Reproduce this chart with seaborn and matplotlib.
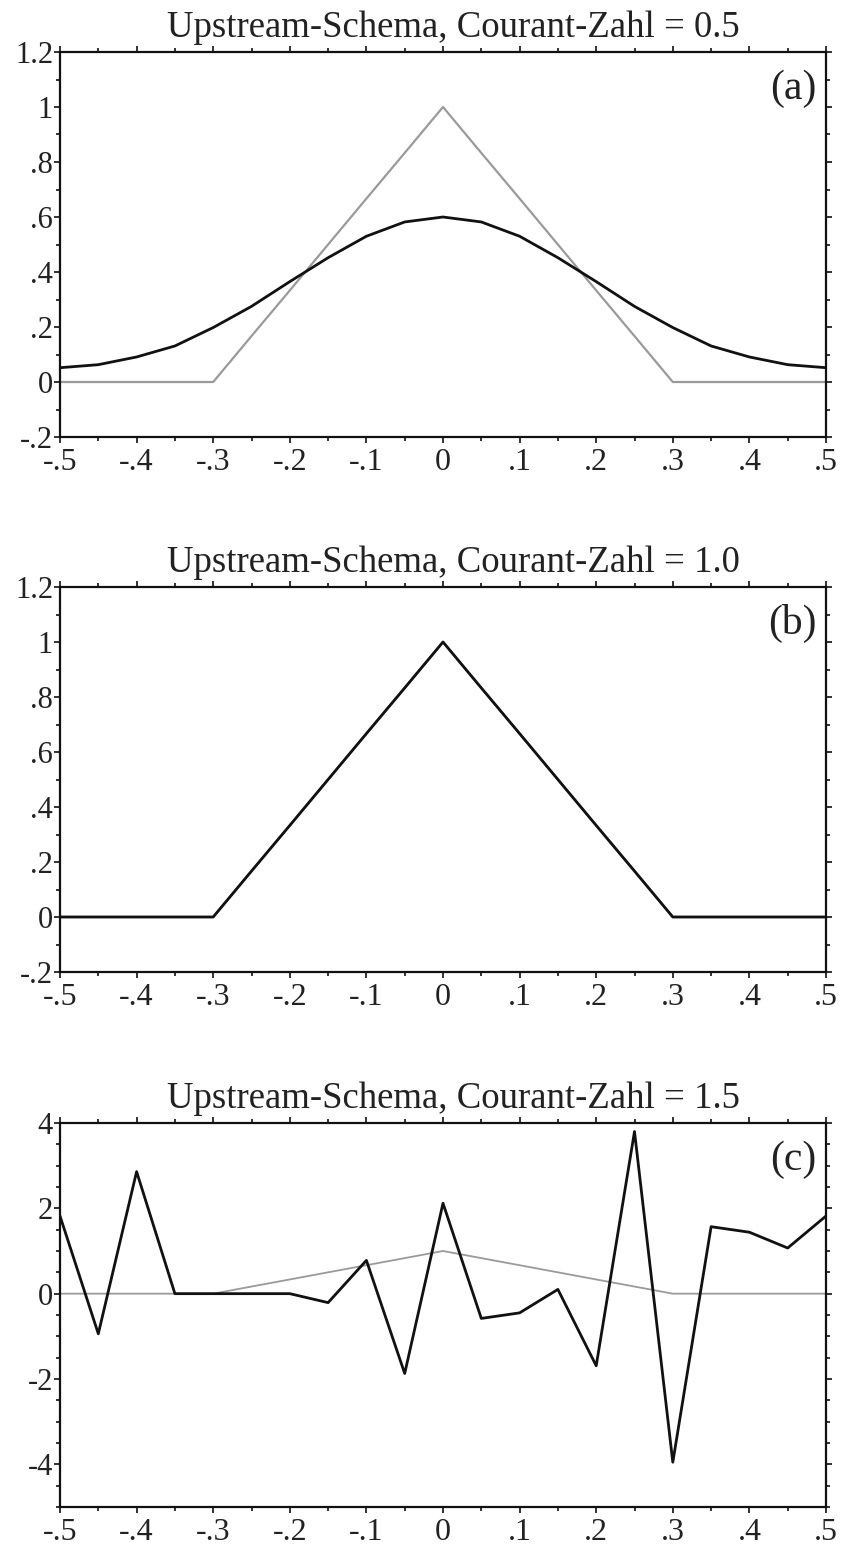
########## =========== UPSTREAM SCHEME, THREE COURANT NUMBERS =========== ##########

import matplotlib
matplotlib.use("Agg")
import matplotlib.pyplot as plt
from matplotlib.ticker import MultipleLocator, FuncFormatter
import seaborn as sns
import pandas as pd

black = "#111111"
grey = "#9a9a9a"
text_col = "#222222"

## Data
x_grid = [-0.5, -0.45, -0.4, -0.35, -0.3, -0.25, -0.2, -0.15, -0.1, -0.05, 0.0,
          0.05, 0.1, 0.15, 0.2, 0.25, 0.3, 0.35, 0.4, 0.45, 0.5]

# initial triangle (grey)
initial = [0, 0, 0, 0, 0, 0.167, 0.333, 0.5, 0.667, 0.833, 1.0,
           0.833, 0.667, 0.5, 0.333, 0.167, 0, 0, 0, 0, 0]

# Courant 0.5: smeared out
c05 = [0.052, 0.063, 0.091, 0.131, 0.198, 0.275, 0.365, 0.452, 0.530, 0.582, 0.600,
       0.582, 0.530, 0.452, 0.365, 0.275, 0.198, 0.131, 0.091, 0.063, 0.052]

# Courant 1.0: exact
c10 = [0, 0, 0, 0, 0, 0.167, 0.333, 0.5, 0.667, 0.833, 1.0,
       0.833, 0.667, 0.5, 0.333, 0.167, 0, 0, 0, 0, 0]

# Courant 1.5: unstable
c15 = [1.82, -0.94, 2.86, 0.0, 0.0, 0.0, 0.0, -0.21, 0.78, -1.87, 2.12,
       -0.58, -0.45, 0.10, -1.69, 3.80, -3.95, 1.57, 1.44, 1.07, 1.82]

titles = ["Upstream-Schema, Courant-Zahl = 0.5",
          "Upstream-Schema, Courant-Zahl = 1.0",
          "Upstream-Schema, Courant-Zahl = 1.5"]
panel_tags = ["(a)", "(b)", "(c)"]

x_ticks = [-0.5, -0.4, -0.3, -0.2, -0.1, 0, 0.1, 0.2, 0.3, 0.4, 0.5]
y_ticks_ab = [-0.2, 0, 0.2, 0.4, 0.6, 0.8, 1.0, 1.2]
y_ticks_c = [-4, -2, 0, 2, 4]


def short_num(v, pos=None):
    # 0.5 -> ".5", -0.2 -> "-.2", 1.0 -> "1"
    if abs(v) < 1e-9:
        return "0"
    s = f"{v:g}"
    s = s.replace("0.", ".")
    return s


## Setup
sns.set_theme(style="ticks")
plt.rcParams["font.family"] = ["Liberation Serif", "DejaVu Serif"]

fig = plt.figure(figsize=(8.48, 15.48), dpi=100)
fig.set_facecolor("white")

W, H = 848, 1548
left, right = 60, 826
boxes = [(52, 437), (587, 972), (1123, 1507)]

series = [(initial, c05), (initial, c10), (initial, c15)]

for i, (top, bot) in enumerate(boxes):
    ax = fig.add_axes([left / W, 1 - bot / H, (right - left) / W, (bot - top) / H])
    ax.set_facecolor("white")

    grey_vals, black_vals = series[i]
    df = pd.DataFrame({"x": x_grid, "init": grey_vals, "num": black_vals})

    ## Plot
    sns.lineplot(data=df, x="x", y="init", ax=ax, color=grey,
                 lw=1.6 if i < 2 else 1.3, sort=False)
    sns.lineplot(data=df, x="x", y="num", ax=ax, color=black, lw=2.0, sort=False)

    ## Axes
    ax.set_xlim(-0.5, 0.5)
    ax.set_xticks(x_ticks)
    ax.xaxis.set_minor_locator(MultipleLocator(0.05))
    if i < 2:
        ax.set_ylim(-0.2, 1.2)
        ax.set_yticks(y_ticks_ab)
        ax.yaxis.set_minor_locator(MultipleLocator(0.1))
    else:
        ax.set_ylim(-5, 4)
        ax.set_yticks(y_ticks_c)
        ax.yaxis.set_minor_locator(MultipleLocator(0.5))

    ax.xaxis.set_major_formatter(FuncFormatter(short_num))
    ax.yaxis.set_major_formatter(FuncFormatter(short_num))
    ax.set_xlabel("")
    ax.set_ylabel("")

    for sp in ax.spines.values():
        sp.set_visible(True)
        sp.set_linewidth(1.6)
        sp.set_color(black)

    ax.tick_params(which="both", direction="out", top=True, right=True,
                   color=black, width=1.2)
    ax.tick_params(which="major", length=4)
    ax.tick_params(which="minor", length=3)
    ax.tick_params(axis="x", which="major", labelsize=23, pad=4, labelcolor=text_col)
    ax.tick_params(axis="y", which="major", labelsize=22, pad=1, labelcolor=text_col)

    ## Labels
    ax.set_title(titles[i], fontsize=26.5, pad=11, color=text_col, x=0.513)
    ax.text(0.988, 0.955, panel_tags[i], transform=ax.transAxes, ha="right", va="top",
            fontsize=30, color=text_col)

## Save
fig.savefig("out.png", dpi=100, facecolor="white")
